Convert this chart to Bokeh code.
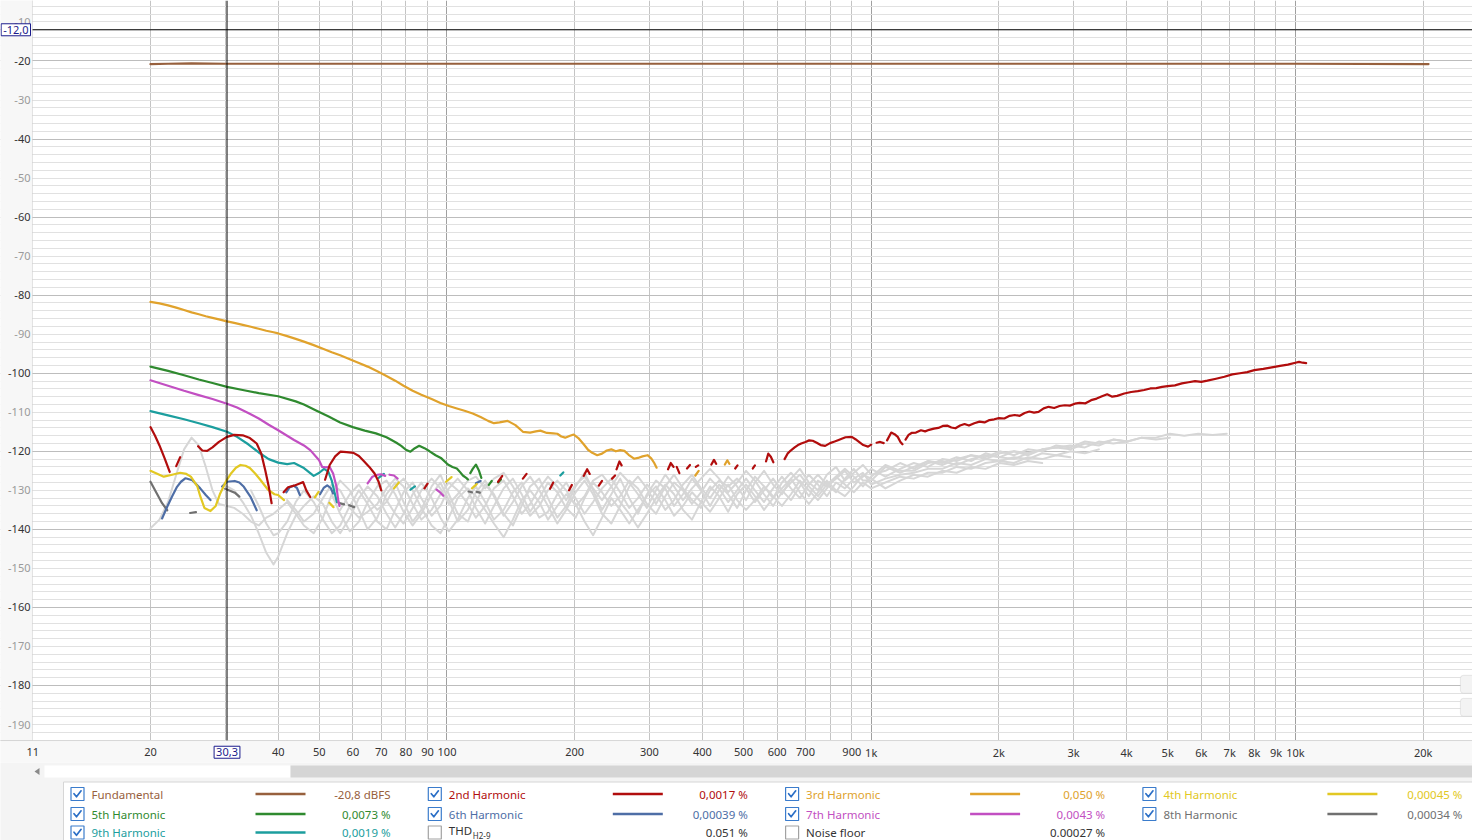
#!/usr/bin/env python3
import numpy as np
from bokeh.core.properties import value
from bokeh.embed import file_html
from bokeh.layouts import column
from bokeh.models import BoxAnnotation, ColumnDataSource, FixedTicker, Grid, Label, Range1d, Span
from bokeh.plotting import figure
from bokeh.resources import INLINE

FONT = "Noto Sans"

# ---- values (Hz / dBFS) ----
FUND_F = [20, 22, 25, 30, 50, 100, 300, 1000, 3000, 10000, 20600]
FUND_DB = [-20.8, -20.7, -20.6, -20.7, -20.7, -20.7, -20.7, -20.7, -20.7, -20.7, -20.8]

H2_F = [
    20, 20.5, 21, 21.6, 22.2, None,
    23.0, 23.5, None,
    25.9, 26.5, 27.2, 28, 29, 30.3, 31.5, 33, 34.3, 35.6, 36.5, 37.3, 38, 38.6, None,
    41.2, 42.2, 43.6, 44.8, 45.8, 46.6, 47.6, None,
    51.6, 52.9, 54.5, 56.1, 58, 60.2, 62, 63.4, 65.6, 67.5, 69, 70, None,
    88.5, 90, None, 132, 135, None, 151, 154, None, 175, 178, None, 194, 197, None,
    210, 214, 217, None, 228, 232, None, 245, 249, None, 251, 255, 258, None,
    332, 337, 342, None, 348, 353, None, 368, 374, None, 386, 391, None,
    420, 426, 431, None, 478, 484, None, 526, 532, None, 565, 572, 580, 588, None,
    625, 635, 646, 660, 672, 684, 700, 714, 728, 744, 760, 779, 800, 820, 838, 852, 870, 900, 918, 936, 958, 983, 1000, None,
    1030, 1050, 1070, None,
    1090, 1115, 1135, 1155, 1172, 1185, None,
    1205, 1225, 1245, 1275, 1310, 1340, 1370, 1405, 1440, 1475, 1510, 1545, 1580, 1620, 1660, 1700, 1750, 1800, 1850, 1900, 1950, 2000,
    2060, 2120, 2180, 2240, 2300, 2360, 2420, 2480, 2550, 2620, 2700, 2780, 2860, 2940, 3020, 3100, 3200, 3300, 3400, 3500, 3600, 3700, 3800, 3950,
    4100, 4250, 4400, 4550, 4700, 4850, 5000, 5200, 5400, 5600, 5800, 6000, 6200, 6500, 6800, 7100, 7400, 7700, 8000, 8400, 8800, 9200, 9600, 10000, 10200, 10400, 10600,
]
H2_DB = [
    -113.8, -116.0, -118.5, -121.8, -125.3, None,
    -123.8, -121.5, None,
    -118.7, -119.8, -119.9, -119.0, -117.6, -116.3, -115.8, -115.9, -116.6, -118.0, -120.6, -124.9, -129.0, -133.3, None,
    -130.5, -129.2, -128.8, -128.3, -127.9, -130.0, -131.7, None,
    -127.3, -123.5, -121.3, -120.1, -120.2, -120.4, -121.2, -122.3, -124.0, -125.7, -127.8, -130.0, None,
    -129.5, -128.3, None, -127.8, -126.3, None, -127.0, -125.8, None, -129.6, -128.0, None, -130.0, -128.6, None,
    -126.3, -124.6, -125.8, None, -128.8, -127.6, None, -127.0, -126.2, None, -124.6, -122.6, -123.6, None,
    -124.6, -123.0, -124.0, None, -124.0, -125.6, None, -124.4, -123.5, None, -124.0, -123.6, None,
    -123.4, -122.2, -123.2, None, -124.4, -123.6, None, -124.4, -123.6, None, -122.6, -120.6, -121.4, -122.8, None,
    -122.0, -120.6, -119.8, -119.0, -118.4, -118.0, -117.6, -117.2, -117.3, -117.8, -118.4, -118.6, -117.9, -117.5, -117.1, -116.8, -116.4, -116.3, -116.9, -117.6, -118.4, -118.8, -118.3, None,
    -117.8, -117.6, -117.9, None,
    -117.2, -115.2, -115.6, -116.3, -117.6, -118.2, None,
    -117.0, -115.8, -115.3, -115.2, -114.6, -114.9, -114.5, -114.2, -114.0, -113.5, -113.4, -113.9, -114.1, -113.4, -113.0, -113.4, -112.8, -112.4, -112.6, -112.0, -111.8, -111.5,
    -111.6, -110.9, -110.7, -110.9, -110.2, -109.8, -110.1, -109.9, -109.0, -108.6, -108.9, -108.4, -108.2, -108.3, -107.8, -107.6, -107.7, -106.9, -106.5, -105.9, -105.4, -106.0, -105.8, -105.2,
    -104.8, -104.6, -104.3, -103.9, -103.8, -103.5, -103.3, -103.1, -102.6, -102.3, -102.0, -102.2, -101.9, -101.4, -100.9, -100.3, -100.0, -99.7, -99.2, -98.9, -98.5, -98.1, -97.8, -97.3, -97.1, -97.3, -97.4,
]

H3_F = [
    20, 21, 22, 23, 24, 25, 26, 27, 28, 29,
    30.3, 31.5, 33, 34.5, 36, 37.5, 39, 40, 42, 44,
    46, 48.5, 51, 53.5, 56, 59, 62, 65, 68.5, 72,
    75.5, 79, 83, 87, 92, 96.5, 101, 106, 110, 115,
    120, 125, 129, 133, 139, 145, 151, 157, 162, 166,
    172, 178, 182, 186, 190, 195, 199, 204, 210, 215,
    220, 226, 232, 238, 244, 250, 256, 262, 268, 276,
    282, 289, 297, 303, 308, 312, None,
    385, 392, None, 452, 458, 463,
]
H3_DB = [
    -81.7, -82.1, -82.6, -83.2, -83.8, -84.4, -84.9, -85.4, -85.8, -86.2,
    -86.7, -87.1, -87.6, -88.1, -88.6, -89.1, -89.5, -89.8, -90.5, -91.2,
    -91.9, -92.8, -93.7, -94.6, -95.4, -96.4, -97.4, -98.3, -99.5, -100.7,
    -101.9, -103.2, -104.5, -105.5, -106.6, -107.6, -108.4, -109.1, -109.6, -110.3,
    -111.2, -112.2, -112.8, -112.6, -112.2, -113.3, -115.0, -115.2, -114.9, -114.7,
    -115.3, -115.4, -115.5, -116.2, -116.5, -116.0, -115.7, -116.6, -118.2, -119.6,
    -120.4, -121.0, -120.6, -119.8, -119.5, -120.0, -119.7, -119.9, -120.9, -121.9,
    -121.7, -121.3, -121.0, -121.8, -123.0, -124.2, None,
    -126.2, -125.0, None, -123.4, -122.3, -123.2,
]

H4_F = [
    20, 21.5, 22.5, 23.5, 24.3, 24.9, 25.8, 26.2, 26.8, 27.7,
    28.5, 29.2, 30.2, 31, 31.8, 32.6, 33.5, 34.3, 35.3, 36.3,
    37.9, 39.2, 40, 41.3, None,
    48.8, 49.8, None, 52.8, 54, None, 75, 77, None, 99.5, 102.5, None, 114.5, 117.5,
]
H4_DB = [
    -125.0, -126.5, -126.0, -125.5, -125.8, -126.5, -129.0, -131.5, -134.5, -135.3,
    -134.0, -130.8, -127.5, -125.6, -124.2, -123.5, -123.7, -124.3, -125.7, -127.3,
    -129.9, -131.0, -131.2, -132.5, None,
    -131.8, -130.4, None, -133.2, -134.3, None, -129.5, -128.0, None, -127.8, -126.6, None, -129.5, -128.4,
]

H5_F = [
    20, 22, 24, 26, 28, 30.3, 33, 36, 40, 44,
    46, 49, 52.6, 56, 60, 64, 68, 72, 74, 76,
    78, 80, 82, 84, 86, 88.5, 91, 94, 97, 100.5,
    103, 105.5, 107.5, 109, 111, 112, None,
    113.5, 115, 117, 119, 120.5, None, 125.5, 127.5, None, 132, 134,
]
H5_DB = [
    -98.3, -99.4, -100.5, -101.6, -102.5, -103.5, -104.3, -105.1, -105.9, -107.2,
    -108.0, -109.5, -111.1, -112.6, -113.8, -114.7, -115.4, -116.4, -117.1, -117.8,
    -118.6, -119.6, -120.1, -119.2, -118.6, -119.2, -120.0, -121.0, -121.8, -123.4,
    -124.0, -124.4, -125.4, -126.2, -126.8, -127.2, None,
    -125.6, -124.5, -123.4, -125.0, -126.8, None, -128.6, -127.6, None, -128.0, -127.2,
]

H6_F = [
    21.3, 21.9, 22.5, 23.1, 23.6, 24.2, 25.1, 26.2, 27, 27.7, None,
    29.5, 30.3, 31.6, 32.4, 33.2, 34.4, 35.6, None,
    41.8, 42.6, 43.5, 44.3, 45, None,
    50.2, 51.2, 52.2, 53.2, 53.9, None, 117, 120,
]
H6_DB = [
    -137.2, -134.2, -131.5, -129.1, -127.8, -126.9, -127.4, -129.5, -131.2, -132.5, None,
    -129.0, -127.8, -127.6, -128.0, -129.1, -131.6, -135.1, None,
    -130.5, -129.2, -128.8, -129.4, -131.2, None,
    -131.0, -129.4, -128.7, -129.4, -130.8, None, -128.2, -127.6,
]

H7_F = [
    20, 22, 24, 26, 28, 30.3, 32, 34, 36, 38,
    40, 43.6, 46, 47.6, 49.9, 50.8, 51.8, 52.9, 53.9, 54.9, 55.4, 55.8, None,
    65, 66.7, 68.5, 69.9, 71.5, None, 73.2, 75, 76.5, None, 94.5, 96.5, 98,
]
H7_DB = [
    -101.8, -103.2, -104.5, -105.6, -106.6, -107.8, -108.8, -110.2, -111.6, -113.2,
    -114.6, -117.1, -118.5, -119.7, -122.2, -124.0, -124.1, -124.0, -125.7, -129.1, -132.5, -134.0, None,
    -128.2, -126.5, -126.0, -125.9, -126.3, None, -126.0, -126.2, -127.0, None, -129.8, -130.6, -131.4,
]

H8_F = [
    20, 20.7, 21.3, 21.9, None, 24.8, 25.6, None, 30.0, 30.8, 31.6, 32.4, None,
    55.5, 57.2, None, 58.8, 60.4, None, 112.5, 114.5, None, 117.5, 119.5,
]
H8_DB = [
    -127.8, -130.8, -133.3, -135.1, None, -135.8, -135.6, None, -129.6, -130.1, -130.6, -131.6, None,
    -133.2, -133.6, None, -133.8, -134.3, None, -130.3, -130.5, None, -130.4, -130.6,
]

H9_F = [
    20, 22, 24, 26, 28, 30.3, 32, 34, 36, 38,
    40, 42, 43.6, 46, 48.5, 50, 51.3, 52.5, 53.5, 54.3, 55, None,
    69, 71, None, 82, 84, None, 185, 188,
]
H9_DB = [
    -109.7, -110.8, -111.8, -112.8, -113.8, -115.0, -116.3, -118.2, -120.3, -122.0,
    -122.9, -123.3, -123.0, -124.3, -126.3, -125.5, -124.5, -125.2, -127.5, -130.5, -133.0, None,
    -126.8, -125.8, None, -129.8, -129.0, None, -126.2, -125.4,
]

# harmonic traces where they sink below the noise floor (drawn light grey)
GRID_F = [
    20, 21, 22, 23, 24, 25, 26, 27, 28, 29, 30.3, 31.5, 33, 34.5, 36, 37.5, 39,
    40, 42, 44, 46, 48.5, 51, 53.5, 56, 59, 62, 65, 68.5, 72, 75.5, 79, 83, 87, 92, 96.5, 101,
    106, 112, 117, 123, 129, 136, 143, 150, 157, 165, 173, 182, 191, 201, 211, 221, 232, 244, 256, 269,
    282, 296, 311, 327, 343, 360, 378, 397, 417, 438, 460, 483, 507, 532, 559, 587, 616, 647, 679, 713, 749, 786, 826, 867, 910, 956,
    1000, 1080, 1170, 1260, 1360, 1470, 1590, 1720, 1860, 2010, 2170, 2340, 2530, 2730, 2950, 3190, 3440, 3720, 4020, 4340, 4690, 5060, 5470, 5900, 6380, 6890,
]
G1 = [
    -139.7, -137.5, -133, -126, -119.5, -116.5, -118.5, -124, -130, -133.5, -134, -134.5, -136, -138, -139, -137, -136,
    -135, -133, -136, -139, -141, -137, -131, -127.5, -130, -135, -140, -137, -131, -128, -133, -138, -135, -129, -126, -131,
    -136, -138, -133, -128.5, -131, -136, -139, -134, -129, -127, -132, -137, -134, -129, -125.5, -130, -135, -131, -127, -132,
    -136, -131, -127.5, -129.5, -134, -131, -127, -130, -134, -130, -126.5, -129, -132.5, -128, -125, -128.5, -131, -127, -124.5, -128, -130, -126, -124, -127.5, -125.5, -123.5,
    -126, -125, -123, -124.5, -122.5, -123, -121.5, -122.5, -120.5, -121.5, -120, -120.5, -119.5, -119, -119.5, -118, -118.5, -117, -117.5, -116.5, -116.5, -115.5, -116, -115.5, -115.8, -115.5,
]
G2 = [None] * 10 + [
    -129, -130, -133, -136.5, -141, -146, -149,
    -147, -141, -136.5, -134, -131.5, -133.5, -138, -141, -137, -132, -129, -131.5, -136, -139.5, -136, -131, -128, -132, -137, -140.5,
    -137.5, -132, -129, -133, -137.5, -135, -130.5, -128, -132.5, -137, -135.5, -131, -128, -132, -136, -133, -129.5, -127, -130.5, -134.5,
    -132, -128.5, -131, -135, -132.5, -128.5, -126, -129.5, -132, -128.5, -131, -134.5, -130, -126.5, -129, -132, -128, -125.5, -128, -131.5, -127.5, -129, -127, -125, -128, -126.5,
    -124.5, -126.5, -124.5, -123, -124, -122, -122.5, -121, -121.5, -120, -121, -119.5, -120, -118.5, -119, -117.5, -118, -117, -117.5, -116.5, -117, -116.5,
]
G3 = [None] * 13 + [
    -130, -134, -138.5, -141.5,
    -141, -138, -133, -130, -133, -137.5, -141, -139, -134, -130, -133.5, -138, -140, -135, -130.5, -128, -132, -136.5, -134, -129.5,
    -127, -130, -134.5, -138.5, -134, -129.5, -127, -131, -135.5, -132, -128, -130.5, -134.5, -137, -132, -128, -130.5, -134, -131.5, -127.5,
    -129.5, -133.5, -136, -131.5, -128, -130, -133.5, -130.5, -127, -129.5, -133, -130, -127, -130, -133, -129.5, -126.5, -129.5, -132, -128.5, -126, -128.5, -130.5, -127, -124.5, -127.5,
    -127.5, -124, -125.5, -124, -122.5, -123.5, -122, -121, -122, -120.5, -120, -121, -119.5, -119, -118.5, -119, -117.5, -118, -117.5,
]
G4 = [None] * 23 + [
    -131, -136, -140.5, -138, -133, -129, -127.5, -131, -135.5, -139, -136, -131, -128, -132.5,
    -138, -135, -130.5, -127.5, -131.5, -136.5, -133, -129, -126.5, -130, -134, -138.5, -135, -130.5, -127.5, -131, -136, -138.5, -134, -129,
    -126.5, -129.5, -133.5, -129, -126, -129.5, -132.5, -134.5, -130, -127.5, -129, -127, -129.5, -133, -130, -127, -130, -132.5, -129, -126, -128.5, -131.5, -128, -129.5, -127, -125.5,
    -128.5, -127, -126, -125.5, -124.5, -124.5, -123, -123.5, -122, -122.5, -121.5, -122, -120.5, -121, -120, -120.5, -119.5,
]
G5 = [None] * 24 + [
    -135, -131, -128.5, -132, -135, -133, -129, -127, -130, -134.5, -139, -141, -137,
    -132, -129.5, -131.5, -135, -138.5, -142, -137.5, -132.5, -130, -133, -137.5, -134, -131, -133.5, -138, -141.5, -137, -132, -135, -138.5,
    -135, -131.5, -129, -132.5, -136.5, -134, -130.5, -133, -135.5, -132, -128.5, -132.5, -135, -132.5, -129, -131.5, -134, -131, -127.5, -130, -132.5, -129.5, -126.5, -128.5, -130.5, -128,
    -129.5, -128, -126.5, -127, -125.5, -125.5, -124, -124.5, -123, -122.5, -123, -121.5, -122, -121, -121.5,
]
G6 = [None] * 28 + [
    -128, -132.5, -136, -138.5, -134.5, -130, -127, -129.5, -133.5,
    -131, -127.5, -126.5, -129.5, -127, -125.5, -129, -133, -136.5, -134, -130, -127.5, -130, -134, -131.5, -127.5, -126, -129, -133, -136,
    -139.5, -136, -132, -128.5, -131, -135, -137.5, -133, -129, -131.5, -135.5, -131, -128.5, -131.5, -135, -132, -129.5, -127, -130.5, -133.5, -130.5, -127.5, -130, -131.5, -129, -126,
    -127, -129.5, -127.5, -126, -126.5, -125, -125.5, -124, -124.5, -123, -123.5, -122.5, -123,
]
G7 = [None] * 18 + [
    -132.5, -135, -138, -136, -132, -128.5, -130, -134.5, -137, -135.5, -133.5, -129.5, -127, -129, -133.5, -137.5, -135, -131, -128,
    -130, -133.5, -137, -134, -129.5, -127.5, -131.5, -136, -133.5, -129.5, -126.5, -129, -132.5, -128.5, -126.5, -129.5, -132.5, -129, -125.5, -128,
    -131, -134.5, -130, -126, -129, -132.5, -129.5, -127, -124.5, -127, -130.5, -128, -125, -127.5, -131, -134, -130.5, -128, -126, -129, -131.5, -128.5, -126.5, -124.5, -126.5, -129,
    -126.5, -123.5, -125, -125, -123, -122.5, -123.5, -122, -121, -121.5, -122, -120.5,
]
GRAY_TRACES = [G1, G2, G3, G4, G5, G6, G7]

X_TICKS = [10.56, 20, 40, 50, 60, 70, 80, 90, 100, 200, 300, 400, 500, 600, 700, 900,
           1000, 2000, 3000, 4000, 5000, 6000, 7000, 8000, 9000, 10000, 20000]
X_TICK_LABELS = ["11", "20", "40", "50", "60", "70", "80", "90", "100", "200", "300", "400", "500", "600", "700", "900",
                 "1k", "2k", "3k", "4k", "5k", "6k", "7k", "8k", "9k", "10k", "20k"]
Y_TICKS = [-10, -20, -30, -40, -50, -60, -70, -80, -90, -100, -110, -120, -130, -140, -150, -160, -170, -180, -190]

CURSOR_F = 30.3
CURSOR_DB = -12.0

LEGEND_NAMES = ["Fundamental", "2nd Harmonic", "3rd Harmonic", "4th Harmonic",
                "5th Harmonic", "6th Harmonic", "7th Harmonic", "8th Harmonic",
                "9th Harmonic", "THD", "Noise floor"]
LEGEND_VALUES = ["-20,8 dBFS", "0,0017 %", "0,050 %", "0,00045 %",
                 "0,0073 %", "0,00039 %", "0,0043 %", "0,00034 %",
                 "0,0019 %", "0.051 %", "0.00027 %"]
LEGEND_CHECKED = [True, True, True, True, True, True, True, True, True, False, False]

COLORS = ["#97603d", "#b10d0d", "#e0a22c", "#e2c823", "#2f8a2f", "#4e6ea6",
          "#c24fc2", "#707070", "#1c9e9e", "#333333", "#333333"]
GRAY = "#d6d6d6"

# graph limits: the frame spans the whole canvas, the label strips sit inside it
F_MIN, F_EDGE, F_MAX = 8.861, 10.54, 26150
DB_TOP, DB_EDGE, DB_BOTTOM = -4.5, -194.1, -199.73
DB_XLABEL = -197.1


def trace(fig, fs, dbs, color, width=2.2):
    n = min(len(fs), len(dbs))
    src = ColumnDataSource(dict(f=np.array(fs[:n], dtype=float), db=np.array(dbs[:n], dtype=float)))
    fig.line("f", "db", source=src, line_color=color, line_width=width, line_join="round", line_cap="round")


def main() -> None:
    p = figure(width=1472, height=762, x_axis_type="log",
               x_range=Range1d(F_MIN, F_MAX), y_range=Range1d(DB_BOTTOM, DB_TOP),
               output_backend="svg", toolbar_location=None, min_border=0,
               x_axis_location=None, y_axis_location=None)
    p.background_fill_color = "white"
    p.border_fill_color = "white"
    p.outline_line_color = None
    p.grid.visible = False

    decades = [100, 1000, 10000]
    others = [20, 30, 40, 50, 60, 70, 80, 90, 200, 300, 400, 500, 600, 700, 800, 900,
              2000, 3000, 4000, 5000, 6000, 7000, 8000, 9000, 20000]
    p.add_layout(Grid(dimension=0, ticker=FixedTicker(ticks=decades, minor_ticks=others),
                      grid_line_color="#a0a0a0", minor_grid_line_color="#c4c4c4"))
    p.add_layout(Grid(dimension=1, ticker=FixedTicker(ticks=list(range(-20, -190, -20)),
                                                      minor_ticks=list(range(-6, -196, -2))),
                      grid_line_color="#bdbdbd", minor_grid_line_color="#e1e1e1"))

    for g in GRAY_TRACES:
        trace(p, GRID_F, g, GRAY, 2.0)

    harmonics = [(H9_F, H9_DB, 8), (H8_F, H8_DB, 7), (H7_F, H7_DB, 6), (H6_F, H6_DB, 5),
                 (H5_F, H5_DB, 4), (H4_F, H4_DB, 3), (H3_F, H3_DB, 2), (H2_F, H2_DB, 1)]
    for fs, dbs, ci in harmonics:
        trace(p, fs, dbs, COLORS[ci])
    trace(p, FUND_F, FUND_DB, COLORS[0])

    p.add_layout(Span(location=CURSOR_F, dimension="height", line_color="black", line_width=1))
    p.add_layout(Span(location=CURSOR_DB, dimension="width", line_color="black", line_width=1))

    # axis strips (their inner border is the axis line)
    p.add_layout(BoxAnnotation(left=5, right=F_EDGE, top=0, bottom=DB_EDGE, fill_color="#f7f7f7",
                               fill_alpha=1, line_color="#a8a8a8", line_width=1))
    p.add_layout(BoxAnnotation(left=5, right=40000, top=DB_EDGE, bottom=-215, fill_color="#f8f8f8",
                               fill_alpha=1, line_color="#a8a8a8", line_width=1))

    # y tick labels: every 20 dB dark, the ones between grey
    for v in Y_TICKS:
        p.add_layout(Label(x=30, x_units="screen", y=v, text=str(v), text_align="right",
                           text_baseline="middle", text_font=FONT, text_font_size="11px",
                           text_color="#333333" if v % 20 == 0 else "#9a9a9a"))
    # x tick labels
    p.text(x=X_TICKS, y=[DB_XLABEL] * len(X_TICKS), text=X_TICK_LABELS, text_align="center",
           text_baseline="middle", text_font=value(FONT), text_font_size="11px", text_color="#333333",
           level="overlay")

    # cursor read-outs on both axes
    p.add_layout(Label(x=CURSOR_F, y=DB_XLABEL, text="30,3", text_align="center",
                       text_baseline="middle", text_font=FONT, text_font_size="11px", text_color="#1b1b8c",
                       background_fill_color="white", border_line_color="#1b1b8c", padding=2))
    p.add_layout(Label(x=30, x_units="screen", y=CURSOR_DB, text="-12,0", text_align="right",
                       text_baseline="middle", text_font=FONT, text_font_size="11px", text_color="#1b1b8c",
                       background_fill_color="white", border_line_color="#1b1b8c", padding=2))

    # the two small buttons at the right edge of the graph
    p.add_layout(BoxAnnotation(left=24490, right=30000, top=-177.4, bottom=-182.0, fill_color="#f3f3f3",
                               fill_alpha=1, line_color="#bcbcbc", border_radius=3))
    p.add_layout(BoxAnnotation(left=24490, right=30000, top=-183.3, bottom=-187.9, fill_color="#f3f3f3",
                               fill_alpha=1, line_color="#bcbcbc", border_radius=3))

    # ---- scrollbar and legend panel underneath ----
    lg = figure(width=1472, height=78, x_range=Range1d(0, 1472), y_range=Range1d(78, 0),
                output_backend="svg", toolbar_location=None, min_border=0,
                x_axis_location=None, y_axis_location=None)
    lg.grid.visible = False
    lg.outline_line_color = None
    lg.background_fill_color = "#f4f4f4"
    lg.border_fill_color = "#f4f4f4"

    lg.quad(left=44, right=290, top=3, bottom=15, fill_color="white", line_color=None)
    lg.quad(left=290, right=1472, top=3, bottom=15, fill_color="#d5d5d5", line_color=None)
    lg.patch([34, 39, 39], [9, 5.5, 12.5], fill_color="#8a8a8a", line_color=None)
    lg.quad(left=63, right=1480, top=19.5, bottom=100, fill_color="white", line_color="#d6d6d6")

    row_y = [31.5, 51.5, 70]
    box_x, box_y, box_c, chk_x, chk_y = [], [], [], [], []
    nm = dict(x=[], y=[], text=[], c=[])
    vl = dict(x=[], y=[], text=[], c=[])
    for i, name in enumerate(LEGEND_NAMES):
        col, row = i % 4, i // 4
        cx = 77 + col * 357.3
        y = row_y[row]
        box_x.append(cx)
        box_y.append(y)
        box_c.append("#3b7ccc" if LEGEND_CHECKED[i] else "#a2a2a2")
        if LEGEND_CHECKED[i]:
            chk_x.append([cx - 3.5, cx - 1, cx + 3.6])
            chk_y.append([y - 0.3, y + 2.8, y - 3.2])
            lg.line([cx + 178, cx + 228], [y, y], line_color=COLORS[i], line_width=2.6)
        ny = y
        if name == "THD":
            ny = y - 2.5
            lg.text(x=[cx + 38], y=[y + 3], text=["H2-9"], text_color=COLORS[i], text_font=value(FONT),
                    text_font_size="8px", text_baseline="middle")
        nm["x"].append(cx + 14)
        nm["y"].append(ny)
        nm["text"].append(name)
        nm["c"].append(COLORS[i])
        vl["x"].append(cx + 313)
        vl["y"].append(y)
        vl["text"].append(LEGEND_VALUES[i])
        vl["c"].append(COLORS[i])

    lg.rect(x=box_x, y=box_y, width=13, height=13, fill_color="white", line_color=box_c, line_width=1.2)
    lg.multi_line(xs=chk_x, ys=chk_y, line_color="#2b6fc6", line_width=1.7, line_join="round", line_cap="round")
    lg.text(x="x", y="y", text="text", text_color="c", source=ColumnDataSource(nm),
            text_font=value(FONT), text_font_size="11.5px", text_baseline="middle", text_align="left")
    lg.text(x="x", y="y", text="text", text_color="c", source=ColumnDataSource(vl),
            text_font=value(FONT), text_font_size="11.5px", text_baseline="middle", text_align="right")

    layout = column(p, lg, spacing=0)
    open("out.html", "w").write(file_html(layout, INLINE, "Distortion"))


if __name__ == '__main__':
    main()
